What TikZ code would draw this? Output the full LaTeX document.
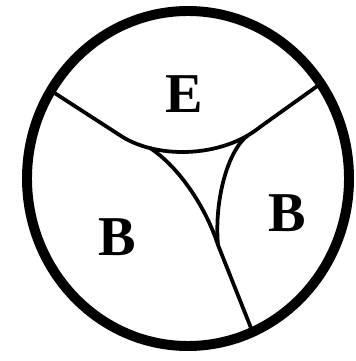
\documentclass[tikz,border=0pt]{standalone}
\usepackage{fontspec}
\setmainfont{Liberation Serif}
\begin{document}
\begin{tikzpicture}[x=0.3mm,y=-0.3mm,
  rim/.style={line width=8.5pt},
  seam/.style={line width=3.2pt,line cap=round},
  region/.style={font=\fontsize{48}{48}\selectfont\bfseries,inner sep=0pt}]
  \useasboundingbox (0,0) rectangle (355,361);
  \coordinate (L) at (53,92);
  \coordinate (R) at (323,82);
  \coordinate (D) at (253,333);
  \coordinate (cusp) at (218,245);
  \draw[seam] (L) -- (118,134) .. controls (155,160) and (222,158) ..
    coordinate[pos=0.25] (tl) coordinate[pos=0.9] (tr) (260,127) -- (R);
  \draw[seam] (tl) .. controls (180,168) and (206,208) .. (cusp) -- (D);
  \draw[seam] (tr) .. controls (228,150) and (214,200) .. (cusp);
  \draw[rim] (188,178.5) ellipse [x radius=161,y radius=167.5];
  \node[region] (E) at (184,94) {E};
  \node[region] (Bl) at (117,237) {B};
  \node[region] (Br) at (287,213) {B};
\end{tikzpicture}
\end{document}
